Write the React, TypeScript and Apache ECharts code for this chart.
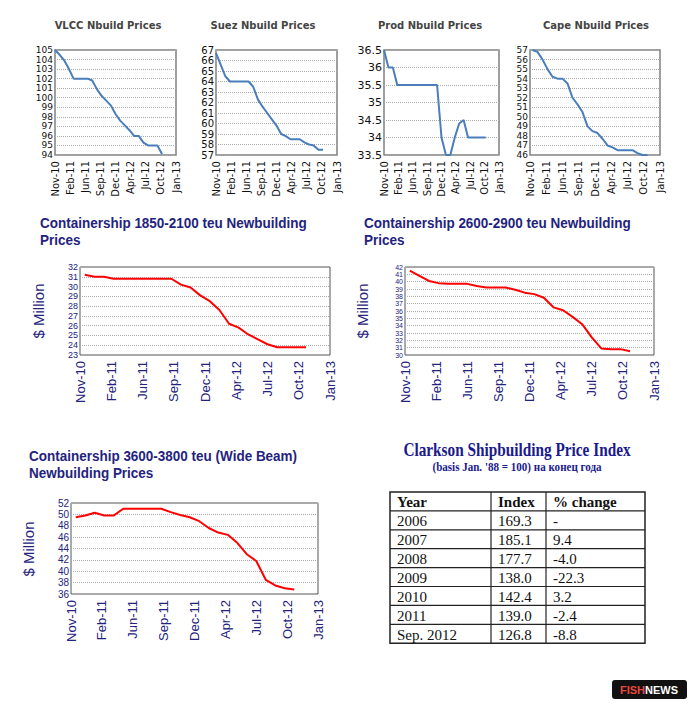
import React, { useEffect, useRef } from "react";
import * as echarts from "echarts";

const tickLabels = ["Nov-10", "Feb-11", "Jun-11", "Sep-11", "Dec-11", "Apr-12", "Jul-12", "Oct-12", "Jan-13"];

// monthly values, index 0 = Nov-10
const vlcc = [105, 104.5, 103.9, 103, 102, 102, 102, 102, 101.8, 100.9, 100.2, 99.7, 99.2, 98.3, 97.6, 97.1, 96.6, 96, 96, 95.3, 95, 95, 95, 94.1];
const suez = [66.7, 65.6, 64.5, 64, 64, 64, 64, 64, 63.5, 62.3, 61.6, 61, 60.4, 59.8, 59, 58.8, 58.5, 58.5, 58.5, 58.2, 58, 57.9, 57.5, 57.5];
const prod = [36.5, 36, 36, 35.5, 35.5, 35.5, 35.5, 35.5, 35.5, 35.5, 35.5, 35.5, 35.5, 34, 33.5, 33.5, 34, 34.4, 34.5, 34, 34, 34, 34, 34];
const cape = [57, 56.8, 56, 55, 54.2, 54, 54, 53.5, 52, 51.3, 50.5, 49, 48.5, 48.3, 47.7, 47, 46.8, 46.5, 46.5, 46.5, 46.5, 46.2, 46, 46];
const box1850 = [31.2, 31, 31, 30.8, 30.8, 30.8, 30.8, 30.8, 30.8, 30.8, 30.2, 29.9, 29.1, 28.5, 27.6, 26.2, 25.8, 25.1, 24.6, 24.1, 23.8, 23.8, 23.8, 23.8];
const box2600 = [41.5, 40.8, 40.1, 39.8, 39.7, 39.7, 39.7, 39.4, 39.2, 39.2, 39.2, 38.9, 38.5, 38.3, 37.8, 36.5, 36.1, 35.2, 34.2, 32.4, 30.9, 30.8, 30.8, 30.5];
const box3600 = [49.5, 49.8, 50.3, 49.8, 49.8, 51, 51, 51, 51, 51, 50.4, 49.9, 49.5, 48.8, 47.6, 46.8, 46.4, 45, 43, 41.8, 38.5, 37.5, 37, 36.8];

const tableHeader = ["Year", "Index", "% change"];
const tableYears = ["2006", "2007", "2008", "2009", "2010", "2011", "Sep. 2012"];
const tableIndex = ["169.3", "185.1", "177.7", "138.0", "142.4", "139.0", "126.8"];
const tableChange = ["-", "9.4", "-4.0", "-22.3", "3.2", "-2.4", "-8.8"];

const NAVY = "#23237e";
const BLUE = "#4a7ebb";

const charts = [
  { data: vlcc, min: 94, max: 105, step: 1, grid: [55, 50, 121, 105], small: true, color: BLUE, off: 0, fs: 9 },
  { data: suez, min: 57, max: 67, step: 1, grid: [216, 50, 121, 105], small: true, color: BLUE, off: 0, fs: 10 },
  { data: prod, min: 33.5, max: 36.5, step: 0.5, grid: [384, 50, 115, 105], small: true, color: BLUE, off: 0, fs: 11 },
  { data: cape, min: 46, max: 57, step: 1, grid: [530, 50, 130, 105], small: true, color: BLUE, off: 0.5, fs: 9 },
  { data: box1850, min: 23, max: 32, step: 1, grid: [80, 267, 250, 88], small: false, color: "#ff0000", off: 0.5, fs: 9 },
  { data: box2600, min: 30, max: 42, step: 1, grid: [405, 267, 249, 88], small: false, color: "#ff0000", off: 0.5, fs: 7 },
  { data: box3600, min: 36, max: 52, step: 2, grid: [71, 503, 247, 91], small: false, color: "#ff0000", off: 0.5, fs: 10 },
];

const App = () => {
  const ref = useRef<HTMLDivElement>(null);

  useEffect(() => {
    if (!ref.current) return;
    const chart = echarts.init(ref.current, null, { renderer: "svg" });

    const smallTitles = [
      ["VLCC Nbuild Prices", 108],
      ["Suez Nbuild Prices", 263],
      ["Prod Nbuild Prices", 430],
      ["Cape Nbuild Prices", 596],
    ];
    const graphic: any[] = smallTitles.map(([t, x]) => ({
      type: "text", x, y: 25,
      style: { text: t, font: "bold 10px 'DejaVu Sans'", fill: "#444", align: "center", verticalAlign: "middle" },
    }));

    const bigTitles = [
      ["Containership 1850-2100 teu Newbuilding\nPrices", 40, 214],
      ["Containership 2600-2900 teu Newbuilding\nPrices", 364, 214],
      ["Containership 3600-3800 teu (Wide Beam)\nNewbuilding Prices", 29, 447],
    ];
    bigTitles.forEach(([t, x, y]) =>
      graphic.push({
        type: "text", x, y, scaleX: 0.9,
        style: { text: t, font: "bold 15px 'Liberation Sans'", fill: NAVY, lineHeight: 17 },
      })
    );
    [[38, 311], [362, 311], [28, 549]].forEach(([x, y]) =>
      graphic.push({
        type: "text", x, y, rotation: Math.PI / 2,
        style: { text: "$ Million", font: "15px 'Liberation Sans'", fill: NAVY, align: "center", verticalAlign: "middle" },
      })
    );

    // table
    graphic.push({
      type: "text", x: 517, y: 450, scaleX: 0.85,
      style: { text: "Clarkson Shipbuilding Price Index", font: "bold 18px 'Liberation Serif'", fill: "#1a1a8c", align: "center", verticalAlign: "middle" },
    });
    graphic.push({
      type: "text", x: 517, y: 467, scaleX: 0.85,
      style: { text: "(basis Jan. '88 = 100) на конец года", font: "bold 13px 'Liberation Serif'", fill: "#1a1a8c", align: "center", verticalAlign: "middle" },
    });
    const tx = [390, 491, 546, 645];
    const ty0 = 492, rh = 18.9;
    const rows = [tableHeader, ...tableYears.map((y, i) => [y, tableIndex[i], tableChange[i]])];
    graphic.push({ type: "rect", shape: { x: tx[0], y: ty0, width: tx[3] - tx[0], height: rh * 8 }, style: { fill: "none", stroke: "#222", lineWidth: 1.5 } });
    for (let r = 1; r < 8; r++)
      graphic.push({ type: "line", shape: { x1: tx[0], y1: ty0 + r * rh, x2: tx[3], y2: ty0 + r * rh }, style: { stroke: "#222", lineWidth: 1.2 } });
    [1, 2].forEach((c) =>
      graphic.push({ type: "line", shape: { x1: tx[c], y1: ty0, x2: tx[c], y2: ty0 + 8 * rh }, style: { stroke: "#222", lineWidth: 1.2 } })
    );
    rows.forEach((row, r) =>
      row.forEach((cell, c) =>
        graphic.push({
          type: "text", x: tx[c] + 7, y: ty0 + r * rh + rh / 2 + 1,
          style: { text: cell, font: (r === 0 ? "bold " : "") + "15px 'Liberation Serif'", fill: "#111", verticalAlign: "middle" },
        })
      )
    );

    // badge
    graphic.push({ type: "rect", shape: { x: 612, y: 680, width: 75, height: 19, r: 3 }, style: { fill: "#111" } });
    graphic.push({
      type: "text", x: 649, y: 690,
      style: {
        text: "{a|FISH}{b|NEWS}", align: "center", verticalAlign: "middle",
        rich: { a: { font: "bold 11px 'Liberation Sans'", fill: "#e8483a" }, b: { font: "bold 11px 'Liberation Sans'", fill: "#fff" } },
      },
    });

    const option: any = {
      animation: false,
      graphic,
      grid: charts.map((c) => ({
        left: c.grid[0], top: c.grid[1], width: c.grid[2], height: c.grid[3],
        show: true, borderColor: c.small ? "#808080" : "#555", borderWidth: c.small ? 1.5 : 1,
      })),
      xAxis: charts.map((c, i) => ({
        type: "value", gridIndex: i, min: 0, max: 26, interval: 3.25,
        axisLine: { show: false }, axisTick: { show: false }, splitLine: { show: false },
        axisLabel: {
          rotate: 90, margin: 6, showMinLabel: true, showMaxLabel: true, hideOverlap: false,
          color: c.small ? "#111" : NAVY,
          fontFamily: c.small ? "DejaVu Sans" : "Liberation Sans",
          fontSize: c.small ? 10 : 13,
          formatter: (v: number) => tickLabels[Math.round(v / 3.25)] ?? "",
        },
      })),
      yAxis: charts.map((c, i) => ({
        type: "value", gridIndex: i, min: c.min, max: c.max, interval: c.step,
        axisLine: { show: false }, axisTick: { show: false },
        splitLine: { lineStyle: { color: "#aaa", type: "dotted" } },
        axisLabel: {
          margin: 2, showMinLabel: true, showMaxLabel: true, hideOverlap: false,
          color: c.small ? "#111" : NAVY,
          fontFamily: c.small ? "DejaVu Sans" : "Liberation Sans",
          fontSize: c.fs,
          lineHeight: c.fs,
        },
      })),
      series: charts.map((c, i) => ({
        type: "line", xAxisIndex: i, yAxisIndex: i, showSymbol: false,
        lineStyle: { color: c.color, width: 2 },
        data: c.data.map((v, m) => [m + c.off, v]),
      })),
    };
    chart.setOption(option);
    return () => chart.dispose();
  }, []);

  return <div ref={ref} style={{ position: "fixed", left: 0, top: 0, width: 694, height: 709, background: "#fff" }} />;
};

export default App;
